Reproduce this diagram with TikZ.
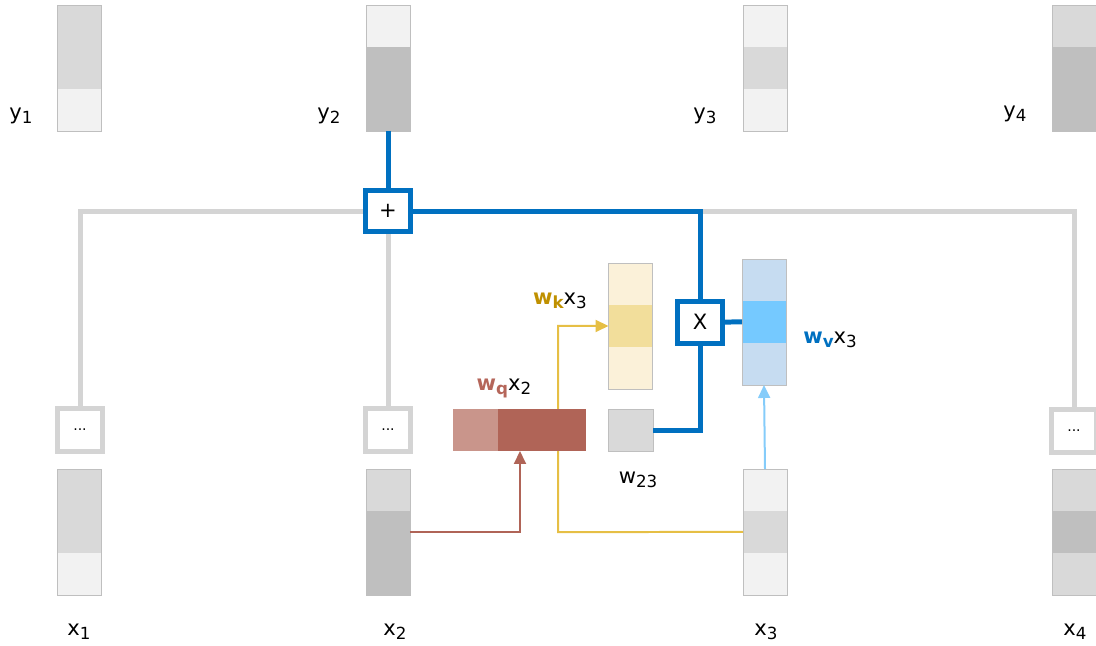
\documentclass[tikz,border=0pt]{standalone}
\usepackage{fontspec}
\setmainfont{DejaVu Sans}
\usetikzlibrary{arrows.meta, positioning}

\definecolor{cellA}{HTML}{F2F2F2}
\definecolor{cellB}{HTML}{D9D9D9}
\definecolor{cellC}{HTML}{BFBFBF}
\definecolor{sumblue}{HTML}{0070C0}
\definecolor{linegray}{HTML}{D4D4D4}
\definecolor{qdark}{HTML}{B06457}
\definecolor{qlight}{HTML}{C9958B}
\definecolor{qtext}{HTML}{B5665A}
\definecolor{kline}{HTML}{E6BF45}
\definecolor{ktext}{HTML}{BF9000}
\definecolor{kpale}{HTML}{FBF1D9}
\definecolor{kmid}{HTML}{F2DE9B}
\definecolor{vpale}{HTML}{C6DCF1}
\definecolor{vmid}{HTML}{75C9FF}
\definecolor{varrow}{HTML}{85CCFA}

\newcommand{\lsub}[1]{\raisebox{-0.35ex}{\fontsize{9.5}{10}\selectfont #1}}
\newcommand{\vcol}[6]{%
  \node (#1a) [cell, fill=#4, anchor=north] at (#2,#3) {};
  \node (#1b) [cell, fill=#5, below=0pt of #1a] {};
  \node (#1c) [cell, fill=#6, below=0pt of #1b] {};
  \draw [cellframe] (#1a.north west) rectangle (#1c.south east);
}

\begin{document}
\begin{tikzpicture}[x=0.02cm, y=-0.02cm, font=\fontsize{12}{14}\selectfont]
        \tikzstyle{cell} = [rectangle, minimum width=0.88cm, minimum height=0.84cm, inner sep=0pt, outer sep=0pt]
        \tikzstyle{cellframe} = [draw=cellC, line width=0.5pt]
        \tikzstyle{opbox} = [rectangle, draw=sumblue, line width=0.1cm, fill=white, minimum width=0.9cm, minimum height=0.84cm, inner sep=0pt]
        \tikzstyle{dotbox} = [rectangle, draw=linegray, line width=0.1cm, fill=white, minimum width=0.9cm, minimum height=0.86cm, inner sep=0pt, font=\fontsize{8}{9}\selectfont]
        \tikzstyle{bus} = [draw=linegray, line width=0.1cm]
        \tikzstyle{sumline} = [draw=sumblue, line width=0.1cm]
        \tikzstyle{arrow} = [line width=0.04cm, -{Triangle[length=0.26cm, width=0.24cm]}]

        \useasboundingbox (0,0) rectangle (1096,646);

        \vcol{y1}{79}{5}{cellB}{cellB}{cellA}
        \vcol{y2}{388}{5}{cellA}{cellC}{cellC}
        \vcol{y3}{765}{5}{cellA}{cellB}{cellA}
        \vcol{y4}{1074}{5}{cellB}{cellC}{cellC}
        \vcol{x1}{79}{469}{cellB}{cellB}{cellA}
        \vcol{x2}{388}{469}{cellB}{cellC}{cellC}
        \vcol{x3}{765}{469}{cellA}{cellB}{cellA}
        \vcol{x4}{1074}{469}{cellB}{cellC}{cellB}
        \vcol{wk}{630.5}{263}{kpale}{kmid}{kpale}
        \vcol{wv}{764}{259}{vpale}{vmid}{vpale}

        \node (ly1) at (21,116) {y\lsub{1}};
        \node (ly2) at (329,116) {y\lsub{2}};
        \node (ly3) at (705,116) {y\lsub{3}};
        \node (ly4) at (1015,114) {y\lsub{4}};
        \node (lx1) at (79,632) {x\lsub{1}};
        \node (lx2) at (395,632) {x\lsub{2}};
        \node (lx3) at (766,632) {x\lsub{3}};
        \node (lx4) at (1075,632) {x\lsub{4}};

        \node (plus) [opbox] at (388,211) {+};
        \node (times) [opbox] at (700,322) {X};
        \node (d1) [dotbox] at (80,430) {...};
        \node (d2) [dotbox] at (388,430) {...};
        \node (d4) [dotbox] at (1074,431) {...};

        \coordinate (kbend) at (558,532);
        \draw [arrow, kline] (x3b.west) -- (kbend) |- (wkb.west);

        \node (wq1) [cell, minimum width=0.9cm, fill=qlight] at (475.5,430) {};
        \node (wq2) [cell, minimum width=1.76cm, fill=qdark, right=0pt of wq1] {};
        \node (w23) [cell, minimum width=0.9cm, fill=cellB, draw=cellC, line width=0.5pt] at (630.5,430) {};

        \node (lwq) at (504,388) {\textbf{\color{qtext}w\lsub{q}}x\lsub{2}};
        \node (lwk) at (560,301) {\textbf{\color{ktext}w\lsub{k}}x\lsub{3}};
        \node (lwv) at (830,340) {\textbf{\color{sumblue}w\lsub{v}}x\lsub{3}};
        \node (lw23) at (638,480) {w\lsub{23}};

        \draw [bus] (d1.north) |- (plus.west);
        \draw [bus] (plus.south) -- (d2.north);
        \draw [bus] (plus.east) -| (d4.north);

        \draw [sumline] (y2c.south) -- (plus.north);
        \draw [sumline] (plus.east) -| (times.north);
        \draw [sumline] (times.east) -- (wvb.west);
        \draw [sumline] (times.south) |- (w23.east);

        \draw [arrow, qdark] (x2b.east) -| ([xshift=0.44cm]wq2.south west);
        \draw [arrow, varrow] (x3a.north) -- (wvc.south);
    \end{tikzpicture}
\end{document}
